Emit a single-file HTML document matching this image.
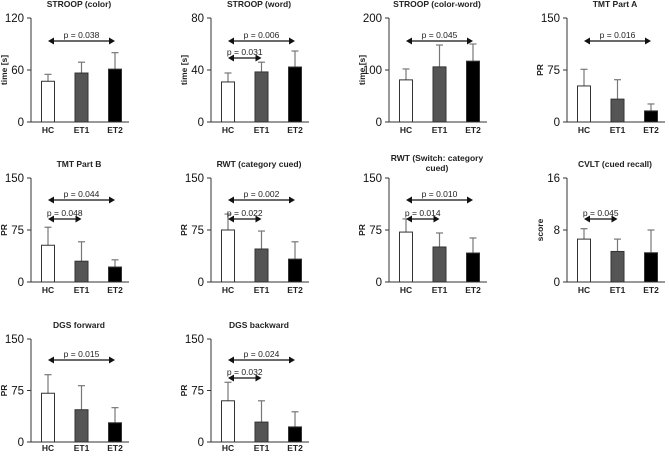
<!DOCTYPE html>
<html><head><meta charset="utf-8"><style>
body{margin:0;background:#fff}
svg text{font-family:"Liberation Sans",Arial,sans-serif}
</style></head><body>
<svg id="fig" width="669" height="452" viewBox="0 0 669 452" xmlns="http://www.w3.org/2000/svg"></svg>
<script>
const categories = ["HC","ET1","ET2"];
const titles = ["STROOP (color)","STROOP (word)","STROOP (color-word)","TMT Part A","TMT Part B","RWT (category cued)","RWT (Switch: category|cued)","CVLT (cued recall)","DGS forward","DGS backward"];
const yTitles = ["time [s]","time [s]","time [s]","PR","PR","PR","PR","score","PR","PR"];
const yMax = [120,80,200,150,150,150,150,16,150,150];
const tickLabels = [[0,60,120],[0,40,80],[0,100,200],[0,75,150],[0,75,150],[0,75,150],[0,75,150],[0,8,16],[0,75,150],[0,75,150]];
const means = [[47,56.5,61],[30.8,38.5,42.3],[81,106,117],[52,33,16],[53,30,21.6],[75,47.6,33],[72,50.5,41.8],[6.6,4.7,4.5],[71,47,28],[60,29,22]];
const errTops = [[55,69,80],[37.7,46,54.6],[102,148,150],[76,61,26],[79,58,32],[98,73.5,58],[91,70.7,63.5],[8.2,6.6,8.0],[98,82,50],[87,60,44]];
const comps = [
 [[0,2,"p = 0.038"]],
 [[0,2,"p = 0.006"],[0,1,"p = 0.031"]],
 [[0,2,"p = 0.045"]],
 [[0,2,"p = 0.016"]],
 [[0,2,"p = 0.044"],[0,1,"p = 0.048"]],
 [[0,2,"p = 0.002"],[0,1,"p = 0.022"]],
 [[0,2,"p = 0.010"],[0,1,"p = 0.014"]],
 [[0,1,"p = 0.045"]],
 [[0,2,"p = 0.015"]],
 [[0,2,"p = 0.024"],[0,1,"p = 0.032"]]
];
const axisXs=[31,211,389,567];
const rows=[{top:18,bot:122,a1:41,a2:58},{top:178,bot:282,a1:200,a2:219},{top:339,bot:442,a1:360,a2:378}];
const fills=["#fff","#555","#000"];
const svg=document.getElementById('fig');
const NS="http://www.w3.org/2000/svg";
function mk(t,attrs,parent){const e=document.createElementNS(NS,t);for(const k in attrs)e.setAttribute(k,attrs[k]);(parent||svg).appendChild(e);return e;}
for(let p=0;p<10;p++){
  const r=rows[Math.floor(p/4)], ax=axisXs[p%4];
  const g=mk('g',{});
  
  
  const y=v=>r.bot-(v/yMax[p])*(r.bot-r.top);
  const x=i=>ax+17+i*33.5;
  const tl=titles[p].split('|');
  tl.forEach((s,k)=>{const t=mk('text',{x:ax+48,y:(r.top-11)+k*10-(tl.length-1)*6,'font-size':8.5,'font-weight':'bold','text-anchor':'middle',fill:'#222'},g);t.textContent=s;
    });
  const ya=mk('line',{x1:ax,y1:r.top,x2:ax,y2:r.bot,stroke:'#333','stroke-width':1},g);
  
  const xa=mk('line',{x1:ax,y1:r.bot,x2:ax+98,y2:r.bot,stroke:'#333','stroke-width':1},g);
  
  tickLabels[p].forEach(v=>{mk('line',{x1:ax-4,y1:y(v),x2:ax,y2:y(v),stroke:'#333'},g);
    const t=mk('text',{x:ax-7,y:y(v)+4,'font-size':11.5,'text-anchor':'end',fill:'#111'},g);t.textContent=v;
    });
  const yt=mk('text',{x:0,y:0,'font-size':8.5,'font-weight':'bold','text-anchor':'middle',fill:'#222',transform:`translate(${ax-24},${(r.top+r.bot)/2}) rotate(-90)`},g);
  yt.textContent=yTitles[p];
  categories.forEach((c,i)=>{
    const e=mk('line',{x1:x(i),y1:y(errTops[p][i]),x2:x(i),y2:y(means[p][i]),stroke:'#777','stroke-width':1.2},g);
    
    mk('line',{x1:x(i)-3.5,y1:y(errTops[p][i]),x2:x(i)+3.5,y2:y(errTops[p][i]),stroke:'#777','stroke-width':1.2},g);
    const b=mk('rect',{x:x(i)-6.5,y:y(means[p][i]),width:13,height:r.bot-y(means[p][i]),fill:fills[i],stroke:'#333','stroke-width':1},g);
    
    const t=mk('text',{x:x(i),y:Math.min(r.bot+11,451),'font-size':8.5,'font-weight':'bold','text-anchor':'middle',fill:'#222'},g);t.textContent=c;
    
  });
  comps[p].forEach((cm,k)=>{
    const ay=cm[1]===1?r.a2:r.a1;
    const x1=x(cm[0]),x2=x(cm[1]);
    const a=mk('g',{},g);
    mk('line',{x1:x1+5,y1:ay,x2:x2-5,y2:ay,stroke:'#111','stroke-width':1.3},a);
    mk('polygon',{points:`${x1},${ay} ${x1+6},${ay-3.5} ${x1+6},${ay+3.5}`,fill:'#111'},a);
    mk('polygon',{points:`${x2},${ay} ${x2-6},${ay-3.5} ${x2-6},${ay+3.5}`,fill:'#111'},a);
    const t=mk('text',{x:(x1+x2)/2,y:ay-3,'font-size':8.5,'text-anchor':'middle',fill:'#222'},a);t.textContent=cm[2];
    
  });
}
</script>
</body></html>
